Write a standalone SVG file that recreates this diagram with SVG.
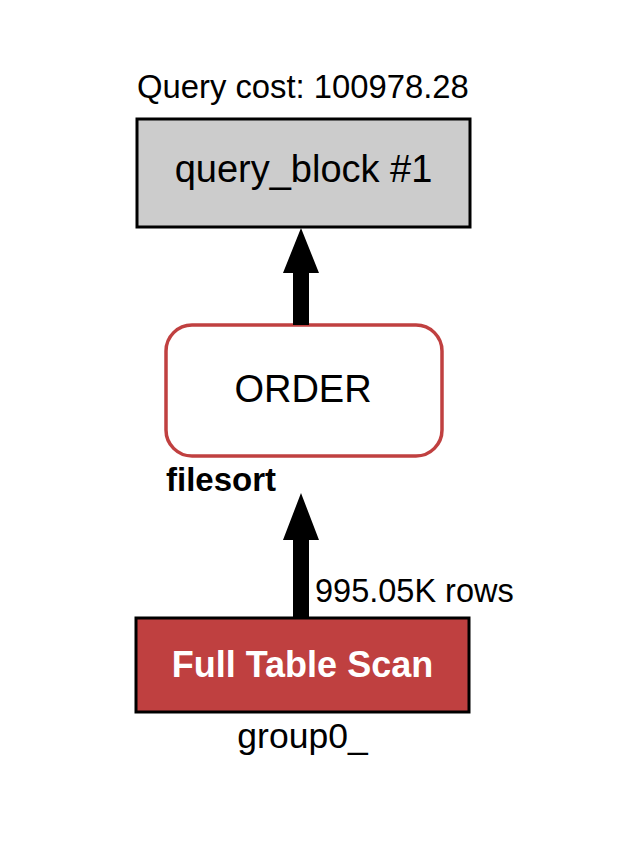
<svg xmlns="http://www.w3.org/2000/svg" width="626" height="844" viewBox="0 0 626 844">
<style>
text{font-family:"Liberation Sans",Arial,Helvetica,sans-serif;fill:#000}
.lbl{font-size:32.5px}
.big{font-size:38px}
.bold{font-weight:bold}
.arrow{fill:#000}
</style>
<rect width="626" height="844" fill="#fff"/>
<g id="query_block">
<text class="lbl" x="137" y="98" style="font-size:32.8px">Query cost: 100978.28</text>
<rect x="137" y="119" width="333" height="108" fill="#cccccc" stroke="#000" stroke-width="3"/>
<text class="big" x="303.5" y="182" text-anchor="middle">query_block #1</text>
</g>
<g id="order">
<rect x="166" y="325" width="276" height="131" rx="26" ry="26" fill="#fff" stroke="#c04040" stroke-width="3.5"/>
<text class="big" x="303" y="402" text-anchor="middle">ORDER</text>
<text class="lbl bold" x="166" y="491" style="font-size:33px">filesort</text>
</g>
<g id="full_table_scan">
<rect x="136" y="618" width="333" height="94" fill="#bf4040" stroke="#000" stroke-width="3"/>
<text class="bold" x="302.5" y="677" text-anchor="middle" style="font-size:36px;fill:#fff">Full Table Scan</text>
<text class="lbl" x="302.5" y="748" text-anchor="middle" style="font-size:35.5px">group0_</text>
</g>
<g id="connectors">
<path class="arrow" d="M301 228 L319 273 L309 273 L309 325 L293 325 L293 273 L283 273 Z"/>
<path class="arrow" d="M301 493 L319 540 L309 540 L309 618 L293 618 L293 540 L283 540 Z"/>
<text class="lbl" x="315" y="602">995.05K rows</text>
</g>
</svg>
